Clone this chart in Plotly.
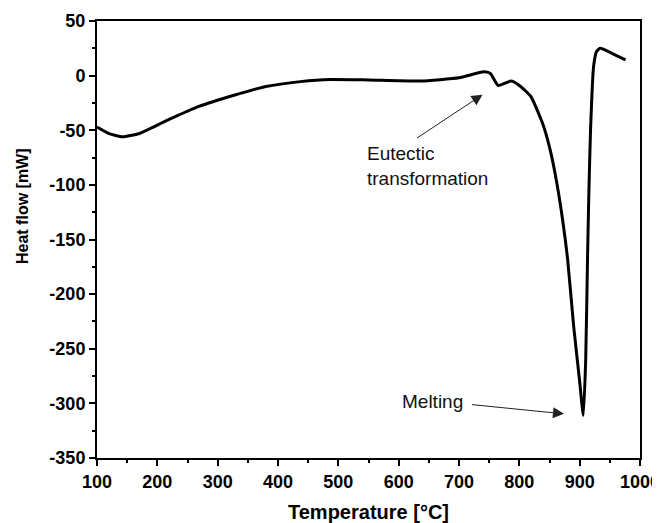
import plotly.graph_objects as go

temperature = [100, 120, 142, 170, 216, 270, 327, 380, 437, 487, 550, 636, 700, 741, 752,
               765, 786, 800, 819, 840, 852, 863, 872, 880, 890, 900, 906, 910, 913, 915, 918,
               923, 928, 934, 955, 976]
heat_flow = [-47, -53, -56, -53, -41, -28, -18, -10, -5.5, -3.5, -4, -5, -2, 3.5, 2,
             -9, -5, -9, -19, -46, -70, -101, -133, -168, -229, -280, -311, -260, -168,
             -113, -50, 8, 22, 25, 20, 14.5]

x_ticks = [100, 200, 300, 400, 500, 600, 700, 800, 900, 1000]
y_ticks = [50, 0, -50, -100, -150, -200, -250, -300, -350]

FONT = "Liberation Sans, Arial"

fig = go.Figure()
fig.add_trace(go.Scatter(x=temperature, y=heat_flow, mode="lines",
                         line=dict(color="black", width=3, shape="spline", smoothing=0.5),
                         showlegend=False, hoverinfo="skip"))

axis_common = dict(showgrid=False, zeroline=False, showline=True, linecolor="black",
                   linewidth=2, mirror=True, ticks="outside", ticklen=6, tickwidth=2,
                   tickcolor="black", automargin=False, ticklabeloverflow="allow",
                   tickfont=dict(family=FONT, size=18, color="black"))

fig.update_xaxes(range=[100, 1000], tickvals=x_ticks,
                 ticktext=["<b>%d</b>" % v for v in x_ticks],
                 minor=dict(ticks="outside", dtick=50, ticklen=3, tickwidth=2, tickcolor="black"),
                 **axis_common)
fig.update_yaxes(range=[-350, 50], tickvals=y_ticks,
                 ticktext=["<b>%d</b>" % v for v in y_ticks],
                 minor=dict(ticks="outside", dtick=25, ticklen=3, tickwidth=2, tickcolor="black"),
                 **axis_common)

ann_font = dict(family=FONT, size=19, color="#111111")

# axis titles as annotations
fig.add_annotation(text="<b>Temperature [°C]</b>", xref="paper", yref="paper",
                   x=0.5, y=-0.124, showarrow=False, xanchor="center", yanchor="middle",
                   font=dict(family=FONT, size=20, color="black"))
fig.add_annotation(text="<b>Heat flow [mW]</b>", xref="paper", yref="paper",
                   x=-0.136, y=0.577, showarrow=False, textangle=-90,
                   font=dict(family=FONT, size=16, color="black"),
                   xanchor="center", yanchor="middle")

fig.add_annotation(text="Eutectic<br>transformation", x=544, y=-83, xref="x", yref="y",
                   showarrow=False, align="left", xanchor="left", yanchor="middle",
                   font=ann_font)
fig.add_annotation(text="", x=739, y=-17.4, ax=628, ay=-58, xref="x", yref="y",
                   axref="x", ayref="y", showarrow=True, arrowhead=2, arrowsize=2.2,
                   arrowwidth=1, arrowcolor="#222222")

fig.add_annotation(text="Melting", x=656, y=-298.6, xref="x", yref="y",
                   showarrow=False, xanchor="center", yanchor="middle", font=ann_font)
fig.add_annotation(text="", x=874, y=-309.6, ax=719, ay=-301, xref="x", yref="y",
                   axref="x", ayref="y", showarrow=True, arrowhead=2, arrowsize=2.2,
                   arrowwidth=1, arrowcolor="#222222")

# page body has an 8px margin, so the figure is sized/offset to compensate
fig.update_layout(width=652, height=515, margin=dict(l=89, r=20, t=13, b=65),
                  plot_bgcolor="white", paper_bgcolor="white")

fig.write_html("out.html")
